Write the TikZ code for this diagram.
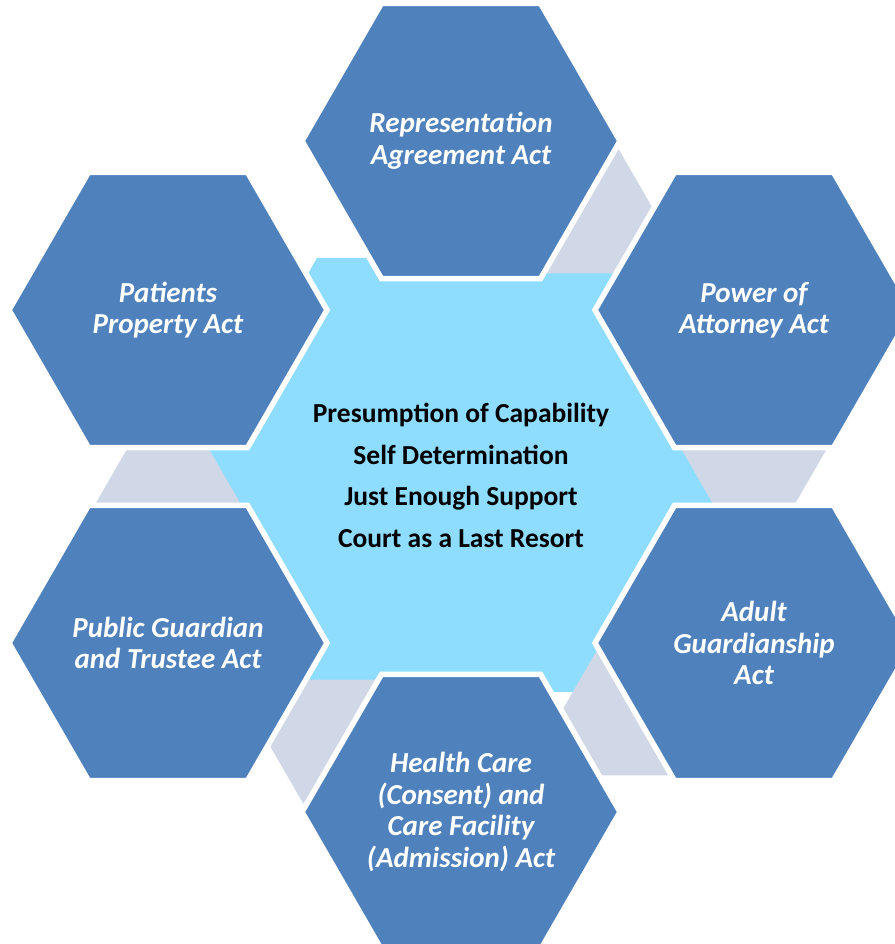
\documentclass[tikz,border=0pt]{standalone}
\usepackage{fontspec}
\setmainfont{Carlito}
\usepackage{tikz}
\usetikzlibrary{shapes.geometric}
\usetikzlibrary{calc}
\usetikzlibrary{math}

\definecolor{actblue}{RGB}{79,129,189}
\definecolor{corecyan}{RGB}{142,221,255}
\definecolor{linkgray}{RGB}{208,215,230}

\tikzset{
    acthex/.style={regular polygon, regular polygon sides=6, minimum size=318pt,
        inner sep=0pt, fill=actblue, draw=white, line width=5.5pt,
        text=white, align=center, font=\fontsize{29}{31.5}\selectfont\bfseries\itshape},
    corelabel/.style={align=center, font=\fontsize{27.5}{41.7}\selectfont\bfseries},
    linkfill/.style={fill=linkgray},
}

\begin{document}
\begin{tikzpicture}[x=1pt, y=1pt]
    \tikzmath{%
        \hexin = 135;               %% 蓝色六边形的内切半径
        \tri = 150;                 %% 灰色三角形的边长
        \tip = \hexin + \tri*sqrt(3)/2;
    }
    \useasboundingbox (0,0) rectangle (894,944);
    %% 六个外围六边形的中心
    \coordinate (c-top) at (461,803);
    \coordinate (c-ur)  at (754,634);
    \coordinate (c-lr)  at (754,301);
    \coordinate (c-bot) at (461,132);
    \coordinate (c-ll)  at (168,301);
    \coordinate (c-ul)  at (168,634);
    %% 中间的浅蓝色六边形
    \fill[corecyan] (192,469) -- (317,686) -- (605,686) -- (730,469)
        -- (605,252) -- (317,252) -- cycle;
    %% 灰色连接块
    \foreach \from/\ang in {top/-30, ur/-90, lr/210, bot/150, ll/90}{
        \fill[linkfill] ($(c-\from)+(\ang:\hexin)+(\ang+90:\tri/2)$)
            -- ($(c-\from)+(\ang:\hexin)+(\ang-90:\tri/2)$)
            -- ($(c-\from)+(\ang:\tip)$) -- cycle;
    }
    \node[corelabel] (core) at (461,468.5) {Presumption of Capability\\Self Determination\\Just Enough Support\\Court as a Last Resort};
    %% 外围六边形
    \node[acthex] (top) at (c-top) {Representation\\Agreement Act};
    \node[acthex] (ur)  at (c-ur)  {Power of\\Attorney Act};
    \node[acthex] (lr)  at (c-lr)  {Adult\\Guardianship\\Act};
    \node[acthex] (bot) at (c-bot) {Health Care\\(Consent) and\\Care Facility\\(Admission) Act};
    \node[acthex] (ll)  at (c-ll)  {Public Guardian\\and Trustee Act};
    \node[acthex] (ul)  at (c-ul)  {Patients\\Property Act};
\end{tikzpicture}
\end{document}
